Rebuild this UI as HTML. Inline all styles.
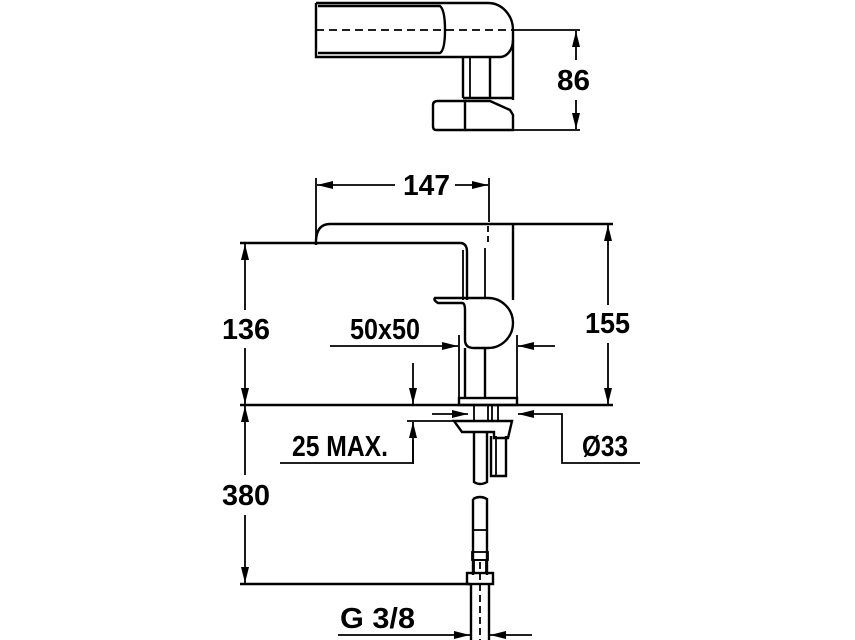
<!DOCTYPE html>
<html><head><style>
html,body{margin:0;padding:0;background:#fff;}
svg{display:block}
text{font-family:"Liberation Sans",sans-serif;font-weight:bold;fill:#000;}
</style></head><body>
<svg width="855" height="640" viewBox="0 0 855 640" xmlns="http://www.w3.org/2000/svg">
<defs>
<marker id="a" viewBox="0 0 16 8" refX="16" refY="4" markerWidth="16" markerHeight="8" orient="auto" markerUnits="userSpaceOnUse"><path d="M0,0L16,4L0,8z" fill="#000"/></marker>
</defs>
<g fill="none" stroke="#000" stroke-width="2.4">
<!-- top view -->
<path d="M316,3 H488 A25,27 0 0 1 513,30 V100"/>
<path d="M316,3 V57 H500 A13,17 0 0 0 513,40"/>
<path d="M318,6 H440 Q445,10 445,30 Q445,50 440,53 H318"/>
<line x1="316" y1="30" x2="513" y2="30" stroke-dasharray="8,5" stroke-width="1.8"/>
<line x1="463" y1="57" x2="463" y2="98"/>
<line x1="470" y1="57" x2="470" y2="98" stroke-width="1.8"/>
<line x1="490" y1="57" x2="490" y2="98"/>
<line x1="463" y1="98" x2="513" y2="98"/>
<path d="M438,101 H465 V130 H436 Q433,130 433,126 V105 Q433,101 438,101z"/>
<path d="M465,101 H490 L510,110 L513,115 V130 H465"/>
<line x1="513" y1="30" x2="580" y2="30" stroke-width="1.8"/>
<line x1="513" y1="130" x2="580" y2="130" stroke-width="1.8"/>
<line x1="576" y1="60" x2="576" y2="31" marker-end="url(#a)" stroke-width="1.8"/>
<line x1="576" y1="100" x2="576" y2="129" marker-end="url(#a)" stroke-width="1.8"/>
<!-- 147 -->
<line x1="316" y1="178" x2="316" y2="240" stroke-width="1.8"/>
<line x1="489" y1="178" x2="489" y2="222" stroke-width="1.8"/>
<line x1="395" y1="185" x2="317" y2="185" marker-end="url(#a)" stroke-width="1.8"/>
<line x1="455" y1="185" x2="488" y2="185" marker-end="url(#a)" stroke-width="1.8"/>
<!-- spout -->
<path d="M613,224 H330 Q317,224 316,240 V245"/>
<path d="M240,243 H460 Q467,243 467,252 V300"/>
<line x1="463" y1="250" x2="463" y2="300" stroke-width="1.8"/>
<line x1="513" y1="224" x2="513" y2="300"/>
<line x1="488" y1="226" x2="488" y2="245" stroke-dasharray="6,4" stroke-width="1.8"/>
<line x1="485" y1="248" x2="485" y2="298" stroke-width="1.8"/>
<!-- handle -->
<path d="M435,298 Q433,300 438,303 H462 Q465,303 465,310 V340 Q465,348 474,348 H488 A25,25 0 0 0 488,298 Z"/>
<!-- lower body -->
<line x1="459" y1="335" x2="459" y2="398" stroke-width="1.8"/>
<line x1="465" y1="348" x2="465" y2="398"/>
<line x1="485" y1="348" x2="485" y2="398"/>
<line x1="517" y1="335" x2="517" y2="398" stroke-width="1.8"/>
<rect x="459" y="398" width="58" height="7"/>
<!-- floor -->
<line x1="240" y1="405" x2="613" y2="405"/>
<!-- 136 / 155 / 380 -->
<line x1="245" y1="310" x2="245" y2="244" marker-end="url(#a)" stroke-width="1.8"/>
<line x1="245" y1="348" x2="245" y2="404" marker-end="url(#a)" stroke-width="1.8"/>
<line x1="608" y1="305" x2="608" y2="225" marker-end="url(#a)" stroke-width="1.8"/>
<line x1="608" y1="343" x2="608" y2="404" marker-end="url(#a)" stroke-width="1.8"/>
<line x1="245" y1="475" x2="245" y2="406" marker-end="url(#a)" stroke-width="1.8"/>
<line x1="245" y1="515" x2="245" y2="583" marker-end="url(#a)" stroke-width="1.8"/>
<line x1="240" y1="584" x2="470" y2="584"/>
<!-- 50x50 -->
<line x1="330" y1="346" x2="458" y2="346" marker-end="url(#a)" stroke-width="1.8"/>
<line x1="555" y1="346" x2="518" y2="346" marker-end="url(#a)" stroke-width="1.8"/>
<!-- 25 MAX -->
<line x1="413" y1="363" x2="413" y2="404" marker-end="url(#a)" stroke-width="1.8"/>
<polyline points="413,464 413,422" marker-end="url(#a)" stroke-width="1.8"/>
<line x1="407" y1="421" x2="512" y2="421" stroke-width="1.8"/>
<polyline points="280,463 413,463 413,440" stroke-width="1.8"/>
<!-- Ø33 -->
<line x1="432" y1="414" x2="468" y2="414" marker-end="url(#a)" stroke-width="1.8"/>
<polyline points="640,463 562,463 562,414 518,414" marker-end="url(#a)" stroke-width="1.8"/>
<!-- connection -->
<rect x="474" y="405" width="14" height="16" stroke-width="1.8"/>
<line x1="492" y1="405" x2="492" y2="421" stroke-width="1.8"/>
<line x1="498" y1="405" x2="498" y2="421" stroke-width="1.8"/>
<path d="M454,421 H512 L508,438 H494 V432 H482 L462,432 Z"/>
<path d="M474,432 V482 Q480,486 487,482 V432"/>
<path d="M491,436 V476 H506 V436"/>
<line x1="496" y1="436" x2="496" y2="476" stroke-width="1.8"/>
<path d="M473,499 Q480,495 487,499 V575"/>
<line x1="473" y1="499" x2="473" y2="575"/>
<line x1="473" y1="530" x2="487" y2="530" stroke-width="1.8"/>
<rect x="472" y="552" width="16" height="8" stroke-width="1.8"/>
<rect x="474" y="560" width="12" height="13" stroke-width="1.8"/>
<rect x="467" y="573" width="26" height="11"/>
<line x1="471" y1="584" x2="471" y2="640"/>
<line x1="489" y1="584" x2="489" y2="640"/>
<line x1="480" y1="562" x2="480" y2="640" stroke-dasharray="7,4" stroke-width="1.8"/>
<!-- G 3/8 -->
<line x1="338" y1="635" x2="470" y2="635" marker-end="url(#a)" stroke-width="1.8"/>
<line x1="532" y1="635" x2="490" y2="635" marker-end="url(#a)" stroke-width="1.8"/>
</g>
<g font-size="29" lengthAdjust="spacingAndGlyphs">
<text x="557" y="90" textLength="33" lengthAdjust="spacingAndGlyphs">86</text>
<text x="403" y="195" textLength="47" lengthAdjust="spacingAndGlyphs">147</text>
<text x="222" y="339" textLength="48" lengthAdjust="spacingAndGlyphs">136</text>
<text x="585" y="333" textLength="45" lengthAdjust="spacingAndGlyphs">155</text>
<text x="350" y="339" textLength="70" lengthAdjust="spacingAndGlyphs">50x50</text>
<text x="292" y="456" textLength="96" lengthAdjust="spacingAndGlyphs">25 MAX.</text>
<text x="582" y="456" textLength="46" lengthAdjust="spacingAndGlyphs">Ø33</text>
<text x="222" y="505" textLength="48" lengthAdjust="spacingAndGlyphs">380</text>
<text x="340" y="628" textLength="75" lengthAdjust="spacingAndGlyphs">G 3/8</text>
</g>
</svg>
</body></html>
